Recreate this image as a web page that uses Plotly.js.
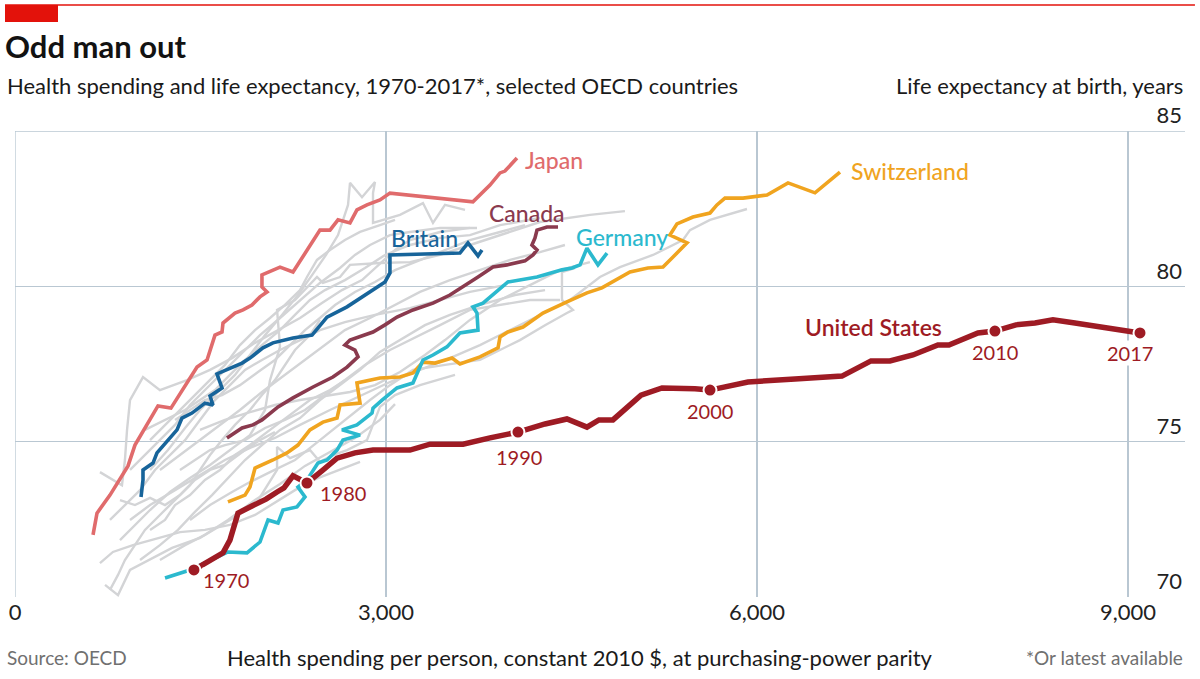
<!DOCTYPE html>
<html>
<head>
<meta charset="utf-8">
<script src="https://cdn.plot.ly/plotly-3.0.1.min.js"></script>
<style>html,body{margin:0;padding:0;background:#fff;}#chart{width:1200px;height:679px;}</style>
</head>
<body>
<div id="chart"></div>
<script>
// ---- Data (health spending per person, constant 2010 $ PPP; life expectancy at birth, years) ----
const usYears = [1970,1971,1972,1973,1974,1975,1976,1977,1978,1979,1980,1981,1982,1983,1984,1985,1986,1987,1988,1989,1990,1991,1992,1993,1994,1995,1996,1997,1998,1999,2000,2001,2002,2003,2004,2005,2006,2007,2008,2009,2010,2011,2012,2013,2014,2015,2016,2017];
const usSpend = [1447,1536,1682,1738,1803,1916,2030,2119,2175,2248,2361,2482,2604,2749,2895,3048,3194,3356,3623,3841,4067,4286,4463,4625,4722,4835,5062,5232,5377,5498,5620,5927,6307,6687,6922,7075,7261,7463,7552,7787,7924,8094,8248,8393,8571,8749,8919,9097];
const usLife = [70.87,71.09,71.42,71.83,72.70,72.93,73.15,73.38,73.51,73.90,73.67,74.06,74.47,74.64,74.73,74.73,74.73,74.92,74.92,75.12,75.31,75.57,75.73,75.47,75.70,75.70,76.50,76.73,76.73,76.70,76.66,76.92,77.02,77.11,77.60,77.60,77.79,78.11,78.11,78.50,78.56,78.76,78.82,78.92,78.82,78.72,78.63,78.50];
const usMarkedYears = [1970,1980,1990,2000,2010,2017];

const japanSpend = [631,663,768,914,970,1051,1156,1261,1391,1472,1553,1617,1674,1682,1779,1844,1916,1981,2038,1997,1997,2143,2248,2361,2466,2547,2612,2709,2765,2846,2951,3032,3703,3841,3922,3962,4019,4059];
const japanLife = [72.00,72.70,73.28,74.22,74.89,75.44,76.15,76.08,76.89,77.40,77.63,78.43,78.53,78.82,79.14,79.24,79.40,79.66,79.82,79.98,80.37,80.62,80.46,81.17,81.81,81.81,82.14,82.04,82.46,82.62,82.78,83.00,82.72,83.26,83.65,83.71,83.97,84.13];

const britainSpend = [1019,1035,1035,1116,1148,1237,1310,1350,1431,1536,1601,1577,1674,1633,1836,1900,2005,2086,2248,2402,2523,2685,2854,2992,3032,3032,3598,3663,3744,3776];
const britainLife = [73.22,73.77,74.09,74.31,74.64,75.05,75.38,75.76,75.92,76.24,76.18,76.47,76.73,77.18,77.53,77.69,78.02,78.18,78.34,78.43,79.01,79.34,79.79,80.14,80.43,81.01,81.07,81.40,80.98,81.17];

const canadaSpend = [1714,1836,1924,1997,2127,2248,2410,2571,2685,2774,2749,2668,2709,2895,2992,3089,3218,3380,3517,3623,3744,3865,3978,4124,4189,4221,4180,4205,4221,4302,4391];
const canadaLife = [75.12,75.44,75.54,75.70,76.12,76.41,76.76,77.08,77.40,77.73,77.95,78.11,78.27,78.53,78.76,79.01,79.24,79.46,79.72,79.98,80.30,80.62,80.69,80.82,81.01,81.17,81.33,81.56,81.81,81.91,81.91];

const germanySpend = [1213,1415,1722,1876,1981,2046,2127,2167,2280,2345,2288,2361,2450,2523,2604,2652,2790,2644,2765,2887,2895,2968,3089,3218,3299,3380,3493,3598,3744,3736,3703,3784,3986,4221,4423,4504,4569,4625,4714,4787];
const germanyLife = [70.61,70.87,71.45,71.42,71.77,72.48,72.38,72.80,72.90,73.22,73.54,73.77,74.31,74.41,74.73,75.05,75.21,75.38,75.54,75.92,76.08,76.34,76.73,76.89,77.63,77.79,78.05,78.50,78.59,79.14,79.34,79.46,80.14,80.30,80.53,80.59,80.69,81.23,80.69,81.07];

const switzerlandSpend = [1722,1860,1900,1941,2086,2199,2288,2385,2490,2604,2628,2790,2765,2951,3113,3218,3299,3396,3534,3598,3760,3906,3922,3986,4108,4269,4463,4625,4746,4835,4973,5118,5240,5353,5434,5296,5353,5482,5620,5676,5741,5887,6081,6251,6469,6671];
const switzerlandLife = [73.06,73.28,73.54,74.15,74.41,74.64,74.89,75.38,75.63,75.76,76.18,76.24,76.89,77.05,77.08,77.21,77.56,77.53,77.69,77.50,77.73,78.02,78.37,78.53,78.69,79.14,79.50,79.79,79.95,80.14,80.46,80.59,80.62,81.07,81.40,81.65,82.01,82.23,82.36,82.62,82.84,82.84,82.94,83.33,83.01,83.68];

// Other OECD countries (grey)
const otherSpend = [
  [728,833,930,1051,1270,1496,1722,1941,2143,2345,2547,2749,2951,3073],
  [687,792,954,1092,1334,1536,1738,1941,2102,2264,2450,2628,2790],
  [687,865,889,906,930,1035,1172,1391,1577,1755,1941,2127,2305,2482,2644,2806,2968,3073,3194,3437,3679],
  [1092,1237,1375,1496,1641,1779,1900,2022,2159,2288,2402,2515,2612,2693,2709,2806,2911,2895,2895,3113,3299,3380,3477,3639],
  [849,970,1092,1253,1415,1577,1738,1900,2022,2062,2143,2119,2264,2442,2490,2628,2709,2951,3194,3437,3679,3922,4245,4649,4932],
  [930,1092,1294,1496,1698,1900,2102,2305,2547,2790,3032,3275,3517,3760,4003,4245,4488,4730,4892,5159,5401,5458,5620,5919],
  [1415,1577,1755,1900,2062,2264,2466,2668,2871,3032,3218,3477,3760,4083,4286,4463,4512,4423,4423,4528],
  [1172,1375,1536,1738,1941,2119,2119,2224,2385,2466,2571,2685,2846,2951,3073,3275,3558],
  [768,889,1011,1132,1253,1375,1496,1617,1738,1860,1997,2143,2305,2466,2668,2911,3194,3437,3679,3962],
  [1011,1172,1318,1455,1593,1722,1860,1997,2143,2305,2466,2628,2790,2951,3113,3315,3517,3760,4043,4286],
  [930,1051,1172,1294,1415,1536,1658,1819,1981,2143,2305,2466,2628,2749,2871,3032,3194,3437,3736],
  [849,970,1092,1213,1334,1455,1577,1698,1860,1981,2102],
  [1092,1213,1294,1415,1536,1658,1779,1900,2062,2224,2385,2547,2668],
  [1172,1334,1496,1658,1819,1997,2183,2345,2507,2668,2871,3073,3275,3517,3760,4003,4245,4447],
  [1294,1415,1536,1674,1819,1965,2102,2224,2345,2466,2588,2749,2911,3073,3275,3477,3679,3922,4124],
  [1051,1213,1375,1496,1617,1738,1860,1997,2143,2264,2385,2507,2668,2830,2992,3194,3437,3679,3922,4245],
  [1496,1698,1900,2102,2305,2507,2709,2911,3113,3315,3477,3679,3922,4164,4407,4649],
  [1092,1213,1334,1455,1577,1698,1819,1941,2062,2183,2305,2361,2442,2547,2668,2790,2951,3073],
  [768,833,889,970,1051,1172,1294,1415,1496,1577,1674,1779,1900,1997,2102,2183,2264,2385,2466],
  [1334,1455,1577,1698,1860,2022,2183,2345,2507,2668,2830,3032,3234,3437,3679,3922,4164,4407]
];
const otherLife = [
  [70.39,70.06,70.87,71.13,71.58,71.90,72.48,73.12,73.64,74.22,74.67,75.12,75.70,76.21],
  [71.09,71.45,71.67,71.83,72.09,72.16,72.32,72.64,73.03,73.44,73.83,74.09,74.35],
  [74.02,73.60,74.41,75.38,76.34,77.08,76.66,76.98,77.31,77.69,78.18,78.59,78.98,79.46,79.88,80.20,80.78,81.17,81.49,81.75,81.88],
  [74.09,74.73,75.44,76.02,76.60,77.15,77.79,78.43,79.08,79.72,80.36,81.01,81.65,82.62,83.33,82.87,83.36,83.00,82.04,82.30,82.68,82.04,82.62,82.46],
  [71.83,72.32,72.80,73.38,73.83,74.25,74.73,75.21,76.02,76.98,78.05,79.24,79.56,80.30,80.11,80.30,80.69,80.75,80.78,81.01,81.33,81.65,82.07,82.30,82.42],
  [72.48,72.96,73.44,73.93,74.41,74.80,75.12,75.54,76.02,76.47,76.92,77.31,77.69,78.11,78.59,79.08,79.56,80.30,80.62,81.01,81.49,81.81,82.14,82.49],
  [72.48,72.96,73.38,73.70,74.02,74.41,75.05,75.70,76.34,76.82,77.31,77.47,77.63,78.27,78.75,79.14,79.24,79.56,80.46,80.59],
  [71.19,71.67,72.00,72.48,72.96,74.09,74.83,74.47,74.73,74.35,74.57,74.73,75.05,76.12,76.50,76.82,77.15],
  [72.48,72.96,73.44,74.09,74.57,75.05,75.70,76.34,76.82,77.31,77.63,77.95,78.27,78.59,78.85,79.08,79.30,79.56,79.82,80.04],
  [71.19,71.67,72.16,72.74,73.28,73.83,74.41,74.89,75.38,75.76,76.34,76.82,77.31,77.89,78.27,78.75,79.08,79.40,79.72,79.88],
  [74.09,74.57,75.05,75.54,76.18,76.66,77.15,77.79,78.43,78.98,79.56,80.11,80.59,81.01,81.33,81.65,81.75,81.88,81.88],
  [73.12,72.96,73.19,72.96,73.28,73.77,74.09,74.25,74.73,75.05,75.31],
  [72.16,72.48,72.96,73.28,73.77,74.09,74.57,74.89,75.38,75.86,76.34,76.66,76.98],
  [74.09,74.57,75.05,75.54,76.02,76.60,77.15,77.63,78.11,78.59,78.98,79.40,79.82,80.20,80.52,80.85,81.10,81.33],
  [75.70,76.02,76.34,76.50,76.82,77.24,77.63,78.11,78.59,78.98,79.40,79.82,80.14,80.52,80.85,81.17,81.49,81.75,81.97],
  [75.38,75.70,76.02,76.34,76.66,77.15,77.63,78.11,78.59,79.08,79.56,79.88,80.20,80.59,81.01,81.33,81.56,81.65,81.97,82.20],
  [75.38,75.70,75.95,76.18,76.34,76.47,76.60,76.82,77.24,77.79,78.27,78.92,79.56,80.04,80.52,80.78],
  [75.05,75.54,76.02,76.50,76.98,77.47,78.11,78.59,78.98,79.40,79.88,80.30,80.85,81.17,81.49,81.75,81.97,82.14],
  [70.23,70.71,71.19,71.67,72.16,72.64,73.12,73.60,74.09,74.57,75.05,75.54,76.02,76.50,76.98,77.47,77.95,78.43,78.92],
  [74.09,74.41,74.73,74.89,75.05,75.44,75.70,76.02,76.50,76.98,77.47,77.95,78.34,78.75,79.24,79.40,79.56,79.56]
];

const xTickVals = [0,3000,6000,9000];
const xTickText = ['0','3,000','6,000','9,000'];
const yTickVals = [70,75,80,85];
const xRange = [0,9461];
const yRange = [70,85];

// ---- Styling ----
const FONT = 'Lato, "Noto Sans", Roboto, sans-serif';
const C = {
  us:'#9e1b24', japan:'#e06b6c', britain:'#17649a', canada:'#8a3a4e',
  germany:'#2bb9ce', switzerland:'#f0a41f', grey:'#d3d4d6', grid:'#b9c7d2', text:'#1a1a1a', muted:'#707070', red:'#e3120b'
};

const traces = [];
otherSpend.forEach((xs,i)=>{
  traces.push({type:'scatter', mode:'lines', x:xs, y:otherLife[i], line:{color:C.grey, width:2.4}, hoverinfo:'skip', showlegend:false});
});
function addLine(x,y,color,w){ traces.push({type:'scatter', mode:'lines', x:x, y:y, line:{color:color, width:w}, hoverinfo:'skip', showlegend:false}); }
addLine(japanSpend, japanLife, C.japan, 3.6);
addLine(britainSpend, britainLife, C.britain, 3.6);
addLine(canadaSpend, canadaLife, C.canada, 3.6);
addLine(switzerlandSpend, switzerlandLife, C.switzerland, 3.6);
addLine(germanySpend, germanyLife, C.germany, 3.6);
addLine(usSpend, usLife, C.us, 5.5);

const mIdx = usMarkedYears.map(y=>usYears.indexOf(y));
traces.push({type:'scatter', mode:'markers', x:mIdx.map(i=>usSpend[i]), y:mIdx.map(i=>usLife[i]),
  marker:{size:13, color:C.us, line:{color:'#ffffff', width:2}}, hoverinfo:'skip', showlegend:false});

const annotations = [];
// year labels for marked US points
const yearOffsets = {1970:[260,-0.33],1980:[290,-0.33],1990:[8,-0.8],2000:[0,-0.68],2010:[0,-0.67],2017:[-80,-0.66]};
mIdx.forEach((idx,k)=>{
  const yr = usMarkedYears[k];
  const off = yearOffsets[yr];
  annotations.push({x:usSpend[idx]+off[0], y:usLife[idx]+off[1], xref:'x', yref:'y', text:String(yr), showarrow:false,
    xanchor:'center', yanchor:'middle', font:{family:FONT, size:20, color:C.us}, bgcolor:'rgba(255,255,255,1)', borderpad:0});
});
// country labels
function label(txt, x, y, color, weight, size){
  annotations.push({x:x, y:y, xref:'x', yref:'y', text:txt, showarrow:false, xanchor:'left', yanchor:'middle',
    font:{family:FONT, size:size||23, color:color, weight:weight||500}});
}
label('Japan', 4108, 84.07, C.japan);
label('Canada', 3817, 82.36, C.canada);
label('Britain', 3024, 81.55, C.britain);
label('Germany', 4520, 81.59, C.germany);
label('Switzerland', 6744, 83.71, C.switzerland);
label('United States', 6372, 78.69, C.us, 600, 23);

// header & footer texts
function ptext(txt, x, y, xanchor, size, color, weight){
  annotations.push({x:x, y:y, xref:'paper', yref:'paper', text:txt, showarrow:false, xanchor:xanchor, yanchor:'middle',
    font:{family:FONT, size:size, color:color, weight:weight||400}});
}
ptext('Health spending and life expectancy, 1970-2017*, selected OECD countries', -0.00855, 1.0987, 'left', 22, C.text);
ptext('Life expectancy at birth, years', 1.0, 1.0987, 'right', 22, C.text);
ptext('Source: OECD', -0.00855, -0.1309, 'left', 19, C.muted);
ptext('Health spending per person, constant 2010 $, at purchasing-power parity', 0.4829, -0.1309, 'center', 22, C.text);
ptext('*Or latest available', 1.0, -0.1309, 'right', 19, C.muted);

const layout = {
  width:1200, height:679,
  margin:{l:15, r:15, t:131, b:82, pad:0},
  paper_bgcolor:'#ffffff', plot_bgcolor:'#ffffff',
  showlegend:false, hovermode:false,
  font:{family:FONT, color:C.text},
  title:{text:'<b>Odd man out</b>', font:{family:FONT, size:31, color:'#121212'}, x:5/1200, xref:'container', xanchor:'left', y:1-47/679, yref:'container', yanchor:'middle'},
  xaxis:{range:xRange, tickvals:xTickVals, ticktext:xTickText, showgrid:true, gridcolor:C.grid, gridwidth:1.3,
    zeroline:false, showline:false, ticks:'', tickfont:{family:FONT, size:22, color:'#222'}, fixedrange:true},
  yaxis:{range:yRange, side:'right', tickvals:yTickVals, showgrid:true, gridcolor:C.grid, gridwidth:1.3,
    zeroline:false, showline:false, ticks:'', ticklabelposition:'inside top', ticklabeloverflow:'allow',
    tickfont:{family:FONT, size:22, color:'#222'}, fixedrange:true},
  shapes:[
    // grid lines at the range edges (top 85 line and the x=0 line), which the axis grid omits
    {type:'line', xref:'paper', yref:'y', x0:0, x1:1, y0:yRange[1], y1:yRange[1], line:{color:C.grid, width:1.3}, layer:'below'},
    {type:'line', xref:'x', yref:'paper', x0:xRange[0], x1:xRange[0], y0:0, y1:1, line:{color:C.grid, width:1.3}, layer:'below'},
    {type:'line', xref:'paper', yref:'paper', x0:-0.00855, x1:1.0085, y0:1.2704, y1:1.2704, line:{color:C.red, width:1.5}},
    {type:'rect', xref:'paper', yref:'paper', x0:-0.00855, x1:0.03675, y0:1.2339, y1:1.2704, fillcolor:C.red, line:{width:0}}
  ],
  annotations:annotations
};

Plotly.newPlot('chart', traces, layout, {displayModeBar:false, staticPlot:true});
</script>
</body>
</html>
